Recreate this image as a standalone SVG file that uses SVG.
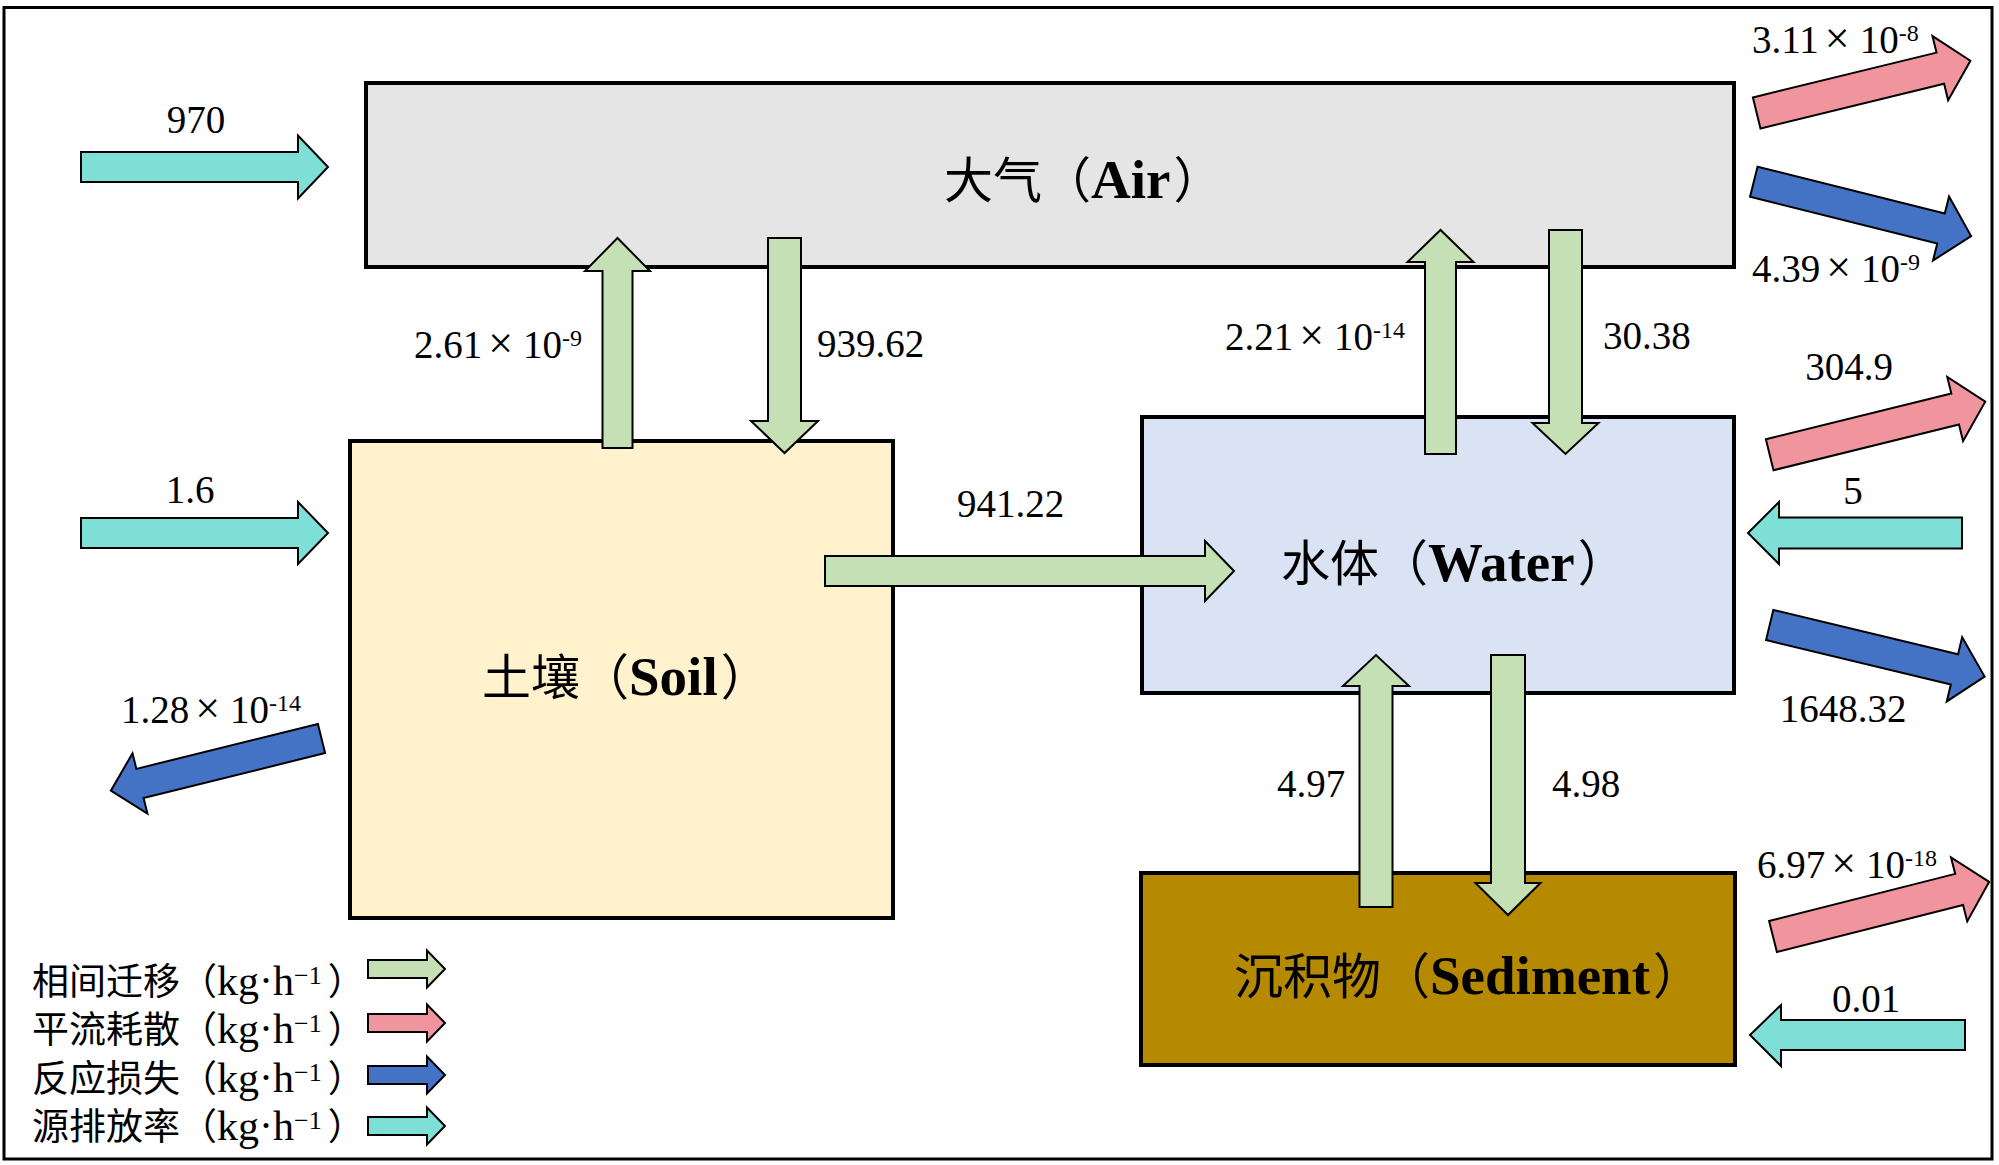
<svg xmlns="http://www.w3.org/2000/svg" width="1999" height="1165" viewBox="0 0 1999 1165">
<style>
  .box { stroke:#000; stroke-width:4; }
  .arr { stroke:#000; stroke-width:2; stroke-linejoin:miter; }
  .g { fill:#c5e0b4; }
  .p { fill:#f0949d; }
  .bl { fill:#4472c4; }
  .c { fill:#7ddfd5; }
  text { font-family:"Liberation Serif","Noto Sans CJK SC",serif; fill:#000; }
  .num { font-size:39px; }
  .x { font-size:44px; }
  .sup { font-size:24px; }
  .node { font-size:49px; }
  .lat { font-size:55px; font-weight:bold; }
  .leg { font-size:37px; }
  .ll { font-size:42px; }
  .lsup { font-size:26px; }
</style>
<rect x="0" y="0" width="1999" height="1165" fill="#fff"/>
<rect x="4" y="7.5" width="1988" height="1151.5" fill="none" stroke="#000" stroke-width="3"/>

<g id="node-air">
  <rect class="box" x="366" y="83" width="1368" height="184" fill="#e5e5e5"/>
  <text class="node" x="944" y="198">大气（<tspan class="lat">Air</tspan><tspan dx="3">）</tspan></text>
</g>
<g id="node-soil">
  <rect class="box" x="350" y="441" width="543" height="477" fill="#fff2cc"/>
  <text class="node" x="482" y="695">土壤（<tspan class="lat">Soil</tspan><tspan dx="3">）</tspan></text>
</g>
<g id="node-water">
  <rect class="box" x="1142" y="417" width="592" height="276" fill="#dae3f3"/>
  <text class="node" x="1281" y="581">水体（<tspan class="lat">Water</tspan><tspan dx="3">）</tspan></text>
</g>
<g id="node-sediment">
  <rect class="box" x="1141" y="873" width="594" height="192" fill="#b58900"/>
  <text class="node" x="1234" y="994">沉积物（<tspan class="lat">Sediment</tspan><tspan dx="3">）</tspan></text>
</g>

<g id="connectors">
  <!-- source emissions -->
  <polygon class="arr c" points="81,152 298,152 298,135.5 328,167 298,198.5 298,182 81,182"/>
  <polygon class="arr c" points="81,518 298,518 298,502 328,533 298,564 298,548 81,548"/>
  <polygon class="arr c" points="1962,517.5 1779,517.5 1779,502 1748,533 1779,564 1779,548.5 1962,548.5"/>
  <polygon class="arr c" points="1965,1020 1781,1020 1781,1005 1750,1035 1781,1066 1781,1050 1965,1050"/>
  <!-- inter-phase transfer -->
  <polygon class="arr g" points="602.5,448 602.5,271 585,271 617.5,238 650,271 632.5,271 632.5,448"/>
  <polygon class="arr g" points="768,238 801,238 801,421 818,421 784.5,453 751,421 768,421"/>
  <polygon class="arr g" points="1425,454 1425,262 1407.5,262 1440.5,230 1473.5,262 1456,262 1456,454"/>
  <polygon class="arr g" points="1549,230 1582,230 1582,423 1598.5,423 1565.5,454 1532.5,423 1549,423"/>
  <polygon class="arr g" points="1359.5,907 1359.5,686 1343,686 1376,655 1409,686 1392.5,686 1392.5,907"/>
  <polygon class="arr g" points="1491,655 1525,655 1525,883 1540.5,883 1508,915 1475.5,883 1491,883"/>
  <polygon class="arr g" points="825,556 1205,556 1205,541 1234,571 1205,601 1205,586 825,586"/>
  <!-- advection -->
  <polygon class="arr p" transform="translate(1756.7,113) rotate(-13.73)" points="0,-16 189,-16 189,-33 220,0 189,33 189,16 0,16"/>
  <polygon class="arr p" transform="translate(1769.7,454.7) rotate(-13.83)" points="0,-16 191,-16 191,-33 222,0 191,33 191,16 0,16"/>
  <polygon class="arr p" transform="translate(1773,936.5) rotate(-14.2)" points="0,-16 192,-16 192,-33 223,0 192,33 192,16 0,16"/>
  <!-- reaction loss -->
  <polygon class="arr bl" transform="translate(1753.8,181.7) rotate(14.05)" points="0,-15.5 193,-15.5 193,-33 224,0 193,33 193,15.5 0,15.5"/>
  <polygon class="arr bl" transform="translate(1769.7,625) rotate(13.5)" points="0,-15.5 190,-15.5 190,-33 221,0 190,33 190,15.5 0,15.5"/>
  <polygon class="arr bl" transform="translate(321.5,738.5) rotate(166.1)" points="0,-15 187,-15 187,-31 217,0 187,31 187,15 0,15"/>
</g>

<g id="edge-labels">
  <text class="num" x="196" y="133" text-anchor="middle">970</text>
  <text class="num" x="414" y="358">2.61<tspan class="x" dx="6">×</tspan><tspan dx="10">10</tspan><tspan class="sup" dy="-12">-9</tspan></text>
  <text class="num" x="817" y="357">939.62</text>
  <text class="num" x="1225" y="350">2.21<tspan class="x" dx="6">×</tspan><tspan dx="10">10</tspan><tspan class="sup" dy="-12">-14</tspan></text>
  <text class="num" x="1603" y="349">30.38</text>
  <text class="num" x="1752" y="53">3.11<tspan class="x" dx="6">×</tspan><tspan dx="10">10</tspan><tspan class="sup" dy="-12">-8</tspan></text>
  <text class="num" x="1752" y="282">4.39<tspan class="x" dx="6">×</tspan><tspan dx="10">10</tspan><tspan class="sup" dy="-12">-9</tspan></text>
  <text class="num" x="1849" y="380" text-anchor="middle">304.9</text>
  <text class="num" x="190" y="503" text-anchor="middle">1.6</text>
  <text class="num" x="957" y="517">941.22</text>
  <text class="num" x="1853" y="504" text-anchor="middle">5</text>
  <text class="num" x="121" y="723">1.28<tspan class="x" dx="6">×</tspan><tspan dx="10">10</tspan><tspan class="sup" dy="-12">-14</tspan></text>
  <text class="num" x="1843" y="722" text-anchor="middle">1648.32</text>
  <text class="num" x="1277" y="797">4.97</text>
  <text class="num" x="1552" y="797">4.98</text>
  <text class="num" x="1757" y="878">6.97<tspan class="x" dx="6">×</tspan><tspan dx="10">10</tspan><tspan class="sup" dy="-12">-18</tspan></text>
  <text class="num" x="1866" y="1012" text-anchor="middle">0.01</text>
</g>

<g id="legend">
  <text class="leg" x="32" y="995">相间迁移（<tspan class="ll">kg·h</tspan><tspan class="lsup" dy="-11">−1</tspan><tspan dx="6" dy="11">）</tspan></text>
  <text class="leg" x="32" y="1043">平流耗散（<tspan class="ll">kg·h</tspan><tspan class="lsup" dy="-11">−1</tspan><tspan dx="6" dy="11">）</tspan></text>
  <text class="leg" x="32" y="1092">反应损失（<tspan class="ll">kg·h</tspan><tspan class="lsup" dy="-11">−1</tspan><tspan dx="6" dy="11">）</tspan></text>
  <text class="leg" x="32" y="1140">源排放率（<tspan class="ll">kg·h</tspan><tspan class="lsup" dy="-11">−1</tspan><tspan dx="6" dy="11">）</tspan></text>
  <polygon class="arr g" points="368,960 427,960 427,950.5 445,969 427,987.5 427,978 368,978"/>
  <polygon class="arr p" points="368,1014 427,1014 427,1004.5 445,1023 427,1041.5 427,1032 368,1032"/>
  <polygon class="arr bl" points="368,1066 427,1066 427,1056.5 445,1075 427,1093.5 427,1084 368,1084"/>
  <polygon class="arr c" points="368,1117 427,1117 427,1107.5 445,1126 427,1144.5 427,1135 368,1135"/>
</g>
</svg>
